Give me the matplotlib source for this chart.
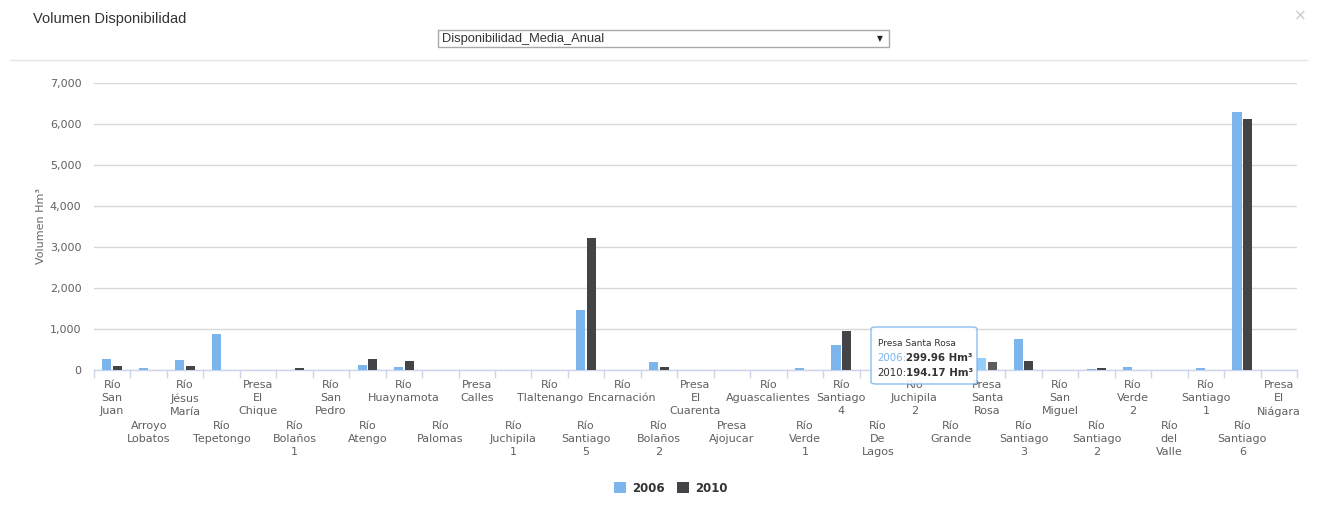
import numpy as np
import matplotlib
matplotlib.use("Agg")
import matplotlib.pyplot as plt
from matplotlib.patches import Rectangle, FancyBboxPatch
from matplotlib.lines import Line2D

categories = [
    "Río San Juan", "Arroyo Lobatos", "Río Jésus María", "Río Tepetongo",
    "Presa El Chique", "Río Bolaños 1", "Río San Pedro", "Río Atengo",
    "Río Huaynamota", "Río Palomas", "Presa Calles", "Río Juchipila 1",
    "Río Tlaltenango", "Río Santiago 5", "Río Encarnación", "Río Bolaños 2",
    "Presa El Cuarenta", "Presa Ajojucar", "Río Aguascalientes", "Río Verde 1",
    "Río Santiago 4", "Río De Lagos", "Río Juchipila 2", "Río Grande",
    "Presa Santa Rosa", "Río Santiago 3", "Río San Miguel", "Río Santiago 2",
    "Río Verde 2", "Río del Valle", "Río Santiago 1", "Río Santiago 6",
    "Presa El Niágara",
]
values_2006 = [275, 50, 250, 885, 0, 0, 0, 130, 65, 0, 0, 0, 0, 1460, 0, 195,
               0, 0, 0, 49, 600, 0, 0, 0, 299.96, 763, 0, 32, 65, 0, 49, 6300, 0]
values_2010 = [90, 0, 105, 0, 0, 50, 0, 275, 220, 0, 0, 0, 0, 3210, 0, 73,
               0, 0, 0, 0, 958, 0, 0, 0, 194.17, 219, 0, 49, 0, 0, 0, 6120, 0]
series_names = ["2006", "2010"]
y_ticks = [0, 1000, 2000, 3000, 4000, 5000, 6000, 7000]
hover_index = categories.index("Presa Santa Rosa")

W, H = 1317, 514
fig = plt.figure(figsize=(W / 100, H / 100), dpi=100)
fig.patch.set_facecolor("white")

def fx(px):
    return px / W

def fy(py):
    return 1 - py / H

ax_left, ax_right, ax_top, ax_bottom = 94, 1297, 83, 370
ax = fig.add_axes([fx(ax_left), fy(ax_bottom), fx(ax_right - ax_left), (ax_bottom - ax_top) / H])

c2006 = "#7cb5ec"
c2010 = "#434348"
c2006_h = "#95cefd"
c2010_h = "#5c5c61"

x = np.arange(len(categories))
bw = 0.25
off = 0.145
cols1 = [c2006_h if i == hover_index else c2006 for i in x]
cols2 = [c2010_h if i == hover_index else c2010 for i in x]
ax.bar(x - off, values_2006, width=bw, color=cols1, zorder=3, linewidth=0)
ax.bar(x + off, values_2010, width=bw, color=cols2, zorder=3, linewidth=0)

ax.set_xlim(-0.5, len(categories) - 0.5)
ax.set_ylim(0, 7000)
ax.set_yticks(y_ticks)
ax.set_yticklabels([f"{v:,}" for v in y_ticks], color="#606060", fontsize=8)
ax.tick_params(axis="y", length=0, pad=9)
ax.grid(axis="y", color="#d8d8d8", linewidth=1, zorder=0)
ax.set_axisbelow(True)
for s in ["top", "right", "left"]:
    ax.spines[s].set_visible(False)
ax.spines["bottom"].set_color("#ccd6eb")
ax.spines["bottom"].set_linewidth(1)

wrapped = ["\n".join(c.split()) for c in categories]
ax.set_xticks(x)
ax.set_xticklabels(wrapped, fontsize=8, color="#606060", linespacing=1.4)
ax.tick_params(axis="x", which="major", length=0)
for i, t in enumerate(ax.xaxis.get_major_ticks()):
    t.set_pad(7 if i % 2 == 0 else 36.5)
ax.set_xticks(np.arange(-0.5, len(categories), 1), minor=True)
ax.tick_params(axis="x", which="minor", length=6, color="#ccd6eb", width=1)

ax.set_ylabel("Volumen Hm³", color="#666666", fontsize=8, labelpad=3)

# header
fig.text(fx(33), fy(18.5), "Volumen Disponibilidad", fontsize=10.5, color="#333333",
         family="Liberation Sans", va="center", ha="left")
fig.text(fx(1300), fy(16), "×", fontsize=11, color="#c8c8c8", va="center", ha="center")
fig.add_artist(Rectangle((fx(438), fy(47)), fx(889 - 438), (47 - 30) / H,
                         facecolor="white", edgecolor="#a9a9a9", linewidth=1,
                         transform=fig.transFigure))
fig.text(fx(442), fy(39), "Disponibilidad_Media_Anual", fontsize=9.3, color="#333333",
         family="Liberation Sans", va="center", ha="left")
fig.text(fx(880), fy(38.5), "▼", fontsize=5.5, color="#222222", va="center", ha="center")
fig.add_artist(Line2D([fx(10), fx(1307)], [fy(60), fy(60)], color="#e5e5e5",
                      linewidth=1, transform=fig.transFigure))

# legend
for px, col, name in [(614, c2006, series_names[0]), (677, c2010, series_names[1])]:
    fig.add_artist(Rectangle((fx(px), fy(493)), fx(12), 11 / H, facecolor=col,
                             edgecolor="none", transform=fig.transFigure))
    fig.text(fx(px + 18), fy(488), name, fontsize=8.5, fontweight="bold",
             color="#333333", va="center", ha="left")

# tooltip
fig.add_artist(FancyBboxPatch((fx(871), fy(384)), fx(106), 57 / H,
                              boxstyle="round,pad=0,rounding_size=0.004",
                              facecolor="white", edgecolor=c2006, alpha=0.88,
                              linewidth=1, transform=fig.transFigure, zorder=5))
fig.text(fx(878), fy(343), categories[hover_index], fontsize=6.5, color="#333333",
         va="center", ha="left", zorder=6)
fig.canvas.draw()
renderer = fig.canvas.get_renderer()
for yy, col, name, val in [(358, c2006, series_names[0], values_2006[hover_index]),
                           (373, "#333333", series_names[1], values_2010[hover_index])]:
    t1 = fig.text(fx(877), fy(yy), name + ":", fontsize=7.4, color=col,
                  va="center", ha="left", zorder=6)
    bb = t1.get_window_extent(renderer)
    fig.text(bb.x1 / W, fy(yy), f"{val:.2f} Hm³", fontsize=7.4,
             fontweight="bold", color="#333333", va="center", ha="left", zorder=6)

fig.savefig("out.png", dpi=100, facecolor="white")
